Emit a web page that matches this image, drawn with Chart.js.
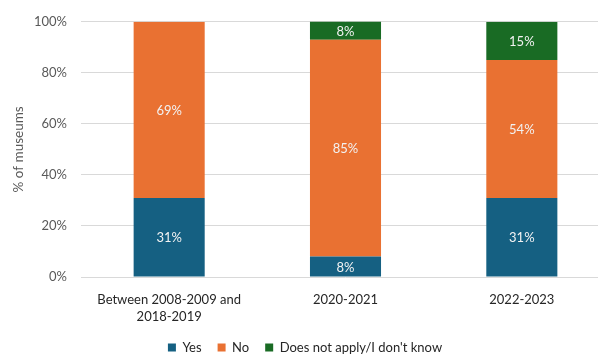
<!DOCTYPE html>
<html>
<head>
<meta charset="utf-8">
<script src="https://cdn.jsdelivr.net/npm/chart.js@4/dist/chart.umd.min.js"></script>
<style>
  html, body { margin: 0; padding: 0; background: #fff; overflow: hidden; }
  #wrap { width: 610px; height: 354px; }
</style>
</head>
<body>
<div id="wrap"><canvas id="c" width="610" height="354"></canvas></div>
<script>
// Museum responses by period, in % of museums
const categories = [["Between 2008-2009 and", "2018-2019"], "2020-2021", "2022-2023"];
const yesValues = [31, 8, 31];
const noValues = [69, 85, 54];
const naValues = [0, 8, 15];
const seriesNames = ["Yes", "No", "Does not apply/I don't know"];
const yTicks = [0, 20, 40, 60, 80, 100];

const FONT = "Lato, 'Open Sans', sans-serif";

// Write each segment's value in its middle
const segmentLabels = {
  id: 'segmentLabels',
  afterDatasetsDraw(chart) {
    const ctx = chart.ctx;
    ctx.save();
    ctx.font = "13px " + FONT;
    ctx.fillStyle = '#f2f2f2';
    ctx.textAlign = 'center';
    ctx.textBaseline = 'middle';
    const area = chart.chartArea;
    chart.data.datasets.forEach((ds, i) => {
      const meta = chart.getDatasetMeta(i);
      meta.data.forEach((bar, j) => {
        const v = ds.data[j];
        if (!v) return;
        const top = Math.max(bar.y, area.top);
        const bottom = Math.min(bar.base, area.bottom);
        ctx.fillText(v + '%', bar.x, (top + bottom) / 2 + 1);
      });
    });
    ctx.restore();
  }
};

new Chart(document.getElementById('c'), {
  type: 'bar',
  data: {
    labels: categories,
    datasets: [
      { label: seriesNames[0], data: yesValues, backgroundColor: '#156082' },
      { label: seriesNames[1], data: noValues, backgroundColor: '#E97132' },
      { label: seriesNames[2], data: naValues, backgroundColor: '#196B24' }
    ]
  },
  options: {
    responsive: false,
    animation: false,
    devicePixelRatio: 1,
    layout: { padding: { top: 20, right: 0, left: 0, bottom: -10 } },
    datasets: { bar: { barPercentage: 0.403, categoryPercentage: 1 } },
    scales: {
      x: {
        stacked: true,
        grid: { display: false, drawTicks: false },
        border: { display: false },
        ticks: {
          color: '#262626',
          font: { family: FONT, size: 13, lineHeight: 1.3 },
          padding: 14,
          maxRotation: 0,
          autoSkip: false
        },
        afterFit(scale) { scale.height = 48; }
      },
      y: {
        stacked: true,
        min: 0,
        max: 100,
        afterBuildTicks(scale) { scale.ticks = yTicks.map(v => ({ value: v })); },
        grid: { color: '#d9d9d9', drawTicks: false, lineWidth: 1 },
        border: { display: false },
        ticks: {
          color: '#595959',
          font: { family: FONT, size: 13 },
          padding: 14,
          callback: v => v + '%'
        },
        title: {
          display: true,
          text: '% of museums',
          color: '#595959',
          font: { family: FONT, size: 13.5 },
          padding: { top: 11, bottom: 0 }
        },
        afterFit(scale) { scale.width = 81; }
      }
    },
    plugins: {
      legend: {
        position: 'bottom',
        labels: {
          color: '#262626',
          font: { family: FONT, size: 13 },
          boxWidth: 8,
          boxHeight: 8,
          padding: 16
        }
      },
      tooltip: { enabled: false }
    }
  },
  plugins: [segmentLabels]
});
</script>
</body>
</html>
